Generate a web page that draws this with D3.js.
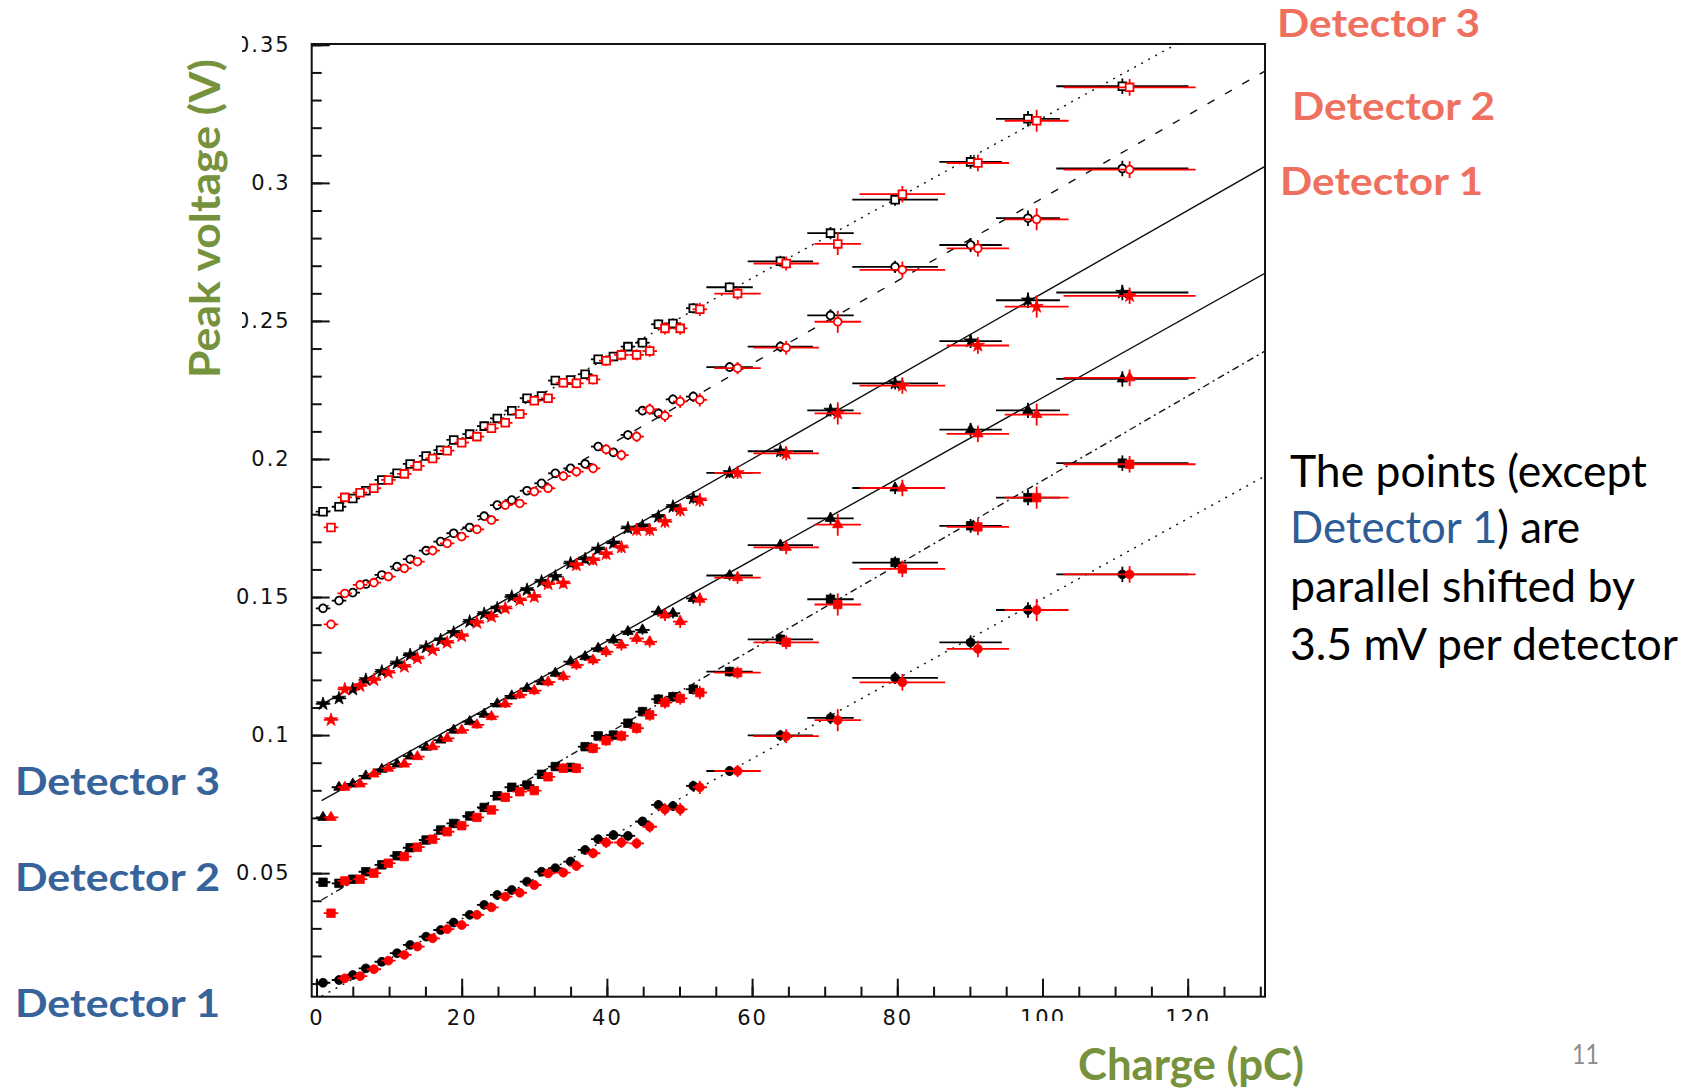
<!DOCTYPE html>
<html>
<head>
<meta charset="utf-8">
<script src="https://cdn.jsdelivr.net/npm/d3@7"></script>
<style>
  html, body { margin: 0; padding: 0; background: #fff; }
  svg { display: block; }
</style>
</head>
<body>
<div id="chart"></div>
<script>
// charge bins (pC): 26 dense bins + 7 wide bins
const chargeBlack = [0.9, 3.1, 5.0, 6.8, 9.0, 11.1, 12.9, 15.1, 17.1, 18.9, 21.1, 23.1, 24.9, 26.9, 29.0, 31.0, 32.9, 35.0, 37.0, 38.8, 40.9, 42.9, 44.9, 47.1, 49.1, 51.9,
  56.9, 63.9, 70.8, 79.7, 90.1, 98.0, 111.0];
const chargeRed = [2.0, 3.9, 6.0, 7.9, 9.9, 12.1, 13.9, 16.0, 18.0, 20.0, 22.1, 24.1, 26.0, 28.0, 30.0, 31.9, 34.0, 35.8, 38.1, 39.9, 42.0, 44.1, 45.9, 48.0, 50.1, 52.8,
  58.0, 64.7, 71.8, 80.7, 91.1, 99.2, 112.0];
const chargeErr = [1, 1, 1, 1, 1, 1, 1, 1, 1, 1, 1, 1, 1, 1, 1, 1, 1, 1, 1, 1, 1, 1, 1, 1, 1, 1,
  3.2, 4.5, 3.2, 5.9, 4.3, 4.4, 9.1];
const voltErrBlack = [0.0008, 0.0008, 0.0008, 0.0009, 0.0009, 0.0009, 0.001, 0.001, 0.001, 0.0011, 0.0011, 0.0012, 0.0012, 0.0012, 0.0013, 0.0013, 0.0014, 0.0014, 0.0015, 0.0015, 0.0016, 0.0016, 0.0017, 0.0018, 0.0018, 0.0019,
  0.0018, 0.002, 0.0022, 0.0022, 0.0025, 0.0028, 0.0028];
const voltErrRed = [0.001, 0.001, 0.001, 0.001, 0.0011, 0.0011, 0.0012, 0.0012, 0.0013, 0.0013, 0.0014, 0.0014, 0.0015, 0.0015, 0.0016, 0.0016, 0.0017, 0.0018, 0.0018, 0.0019, 0.002, 0.002, 0.0021, 0.0022, 0.0023, 0.0024,
  0.0022, 0.0025, 0.004, 0.003, 0.003, 0.004, 0.003];

// peak voltage (V), upper group: Detector 3, 2, 1
const up3Black = [0.1809, 0.1827, 0.1857, 0.1885, 0.1924, 0.1948, 0.1982, 0.2011, 0.2032, 0.2069, 0.2090, 0.2119, 0.2147, 0.2175, 0.2220, 0.2228, 0.2284, 0.2286, 0.2307, 0.2361, 0.2371, 0.2407, 0.2421, 0.2488, 0.2491, 0.2546,
  0.2622, 0.2716, 0.2818, 0.2939, 0.3076, 0.3232, 0.3350];
const up3Red = [0.1752, 0.1861, 0.1878, 0.1894, 0.1924, 0.1946, 0.1975, 0.2002, 0.2030, 0.2059, 0.2081, 0.2111, 0.2131, 0.2163, 0.2211, 0.2220, 0.2276, 0.2274, 0.2288, 0.2356, 0.2377, 0.2377, 0.2391, 0.2473, 0.2473, 0.2542,
  0.2599, 0.2708, 0.2779, 0.2959, 0.3072, 0.3225, 0.3346];
const up2Black = [0.1459, 0.1487, 0.1516, 0.1547, 0.1580, 0.1610, 0.1637, 0.1668, 0.1701, 0.1731, 0.1752, 0.1793, 0.1833, 0.1851, 0.1885, 0.1912, 0.1948, 0.1966, 0.1982, 0.2045, 0.2024, 0.2087, 0.2175, 0.2165, 0.2216, 0.2226,
  0.2333, 0.2407, 0.2520, 0.2696, 0.2775, 0.2872, 0.3052];
const up2Red = [0.1401, 0.1513, 0.1544, 0.1552, 0.1574, 0.1604, 0.1628, 0.1668, 0.1694, 0.1719, 0.1745, 0.1779, 0.1833, 0.1839, 0.1882, 0.1894, 0.1938, 0.1954, 0.1966, 0.2035, 0.2014, 0.2081, 0.2180, 0.2156, 0.2208, 0.2214,
  0.2329, 0.2403, 0.2497, 0.2685, 0.2763, 0.2868, 0.3048];
const up1Black = [0.1113, 0.1133, 0.1166, 0.1200, 0.1230, 0.1260, 0.1290, 0.1318, 0.1344, 0.1371, 0.1411, 0.1439, 0.1459, 0.1501, 0.1526, 0.1556, 0.1574, 0.1622, 0.1637, 0.1673, 0.1695, 0.1749, 0.1757, 0.1791, 0.1827, 0.1858,
  0.1950, 0.2028, 0.2176, 0.2274, 0.2427, 0.2575, 0.2603];
const up1Red = [0.1055, 0.1166, 0.1178, 0.1200, 0.1226, 0.1248, 0.1278, 0.1308, 0.1335, 0.1359, 0.1407, 0.1429, 0.1459, 0.1489, 0.1501, 0.1547, 0.1550, 0.1616, 0.1634, 0.1656, 0.1680, 0.1743, 0.1743, 0.1773, 0.1815, 0.1851,
  0.1950, 0.2020, 0.2165, 0.2266, 0.2411, 0.2552, 0.2591];

// lower group: Detector 3, 2, 1
const lo3Black = [0.0702, 0.0811, 0.0823, 0.0852, 0.0876, 0.0895, 0.0924, 0.0956, 0.0982, 0.1018, 0.1049, 0.1076, 0.1113, 0.1142, 0.1169, 0.1194, 0.1224, 0.1266, 0.1284, 0.1314, 0.1345, 0.1375, 0.1381, 0.1447, 0.1441, 0.1495,
  0.1578, 0.1688, 0.1785, 0.1895, 0.2106, 0.2176, 0.2290];
const lo3Red = [0.0702, 0.0811, 0.0823, 0.0859, 0.0880, 0.0895, 0.0922, 0.0958, 0.0988, 0.1018, 0.1037, 0.1067, 0.1113, 0.1146, 0.1161, 0.1192, 0.1212, 0.1254, 0.1272, 0.1302, 0.1326, 0.1350, 0.1338, 0.1435, 0.1411, 0.1492,
  0.1570, 0.1680, 0.1762, 0.1895, 0.2091, 0.2161, 0.2294];
const lo2Black = [0.0467, 0.0463, 0.0478, 0.0505, 0.0530, 0.0563, 0.0592, 0.0620, 0.0656, 0.0680, 0.0707, 0.0738, 0.0780, 0.0811, 0.0819, 0.0858, 0.0886, 0.0883, 0.0958, 0.0997, 0.1000, 0.1043, 0.1085, 0.1130, 0.1139, 0.1166,
  0.1230, 0.1347, 0.1492, 0.1625, 0.1758, 0.1860, 0.1985];
const lo2Red = [0.0355, 0.0472, 0.0478, 0.0500, 0.0536, 0.0560, 0.0594, 0.0623, 0.0650, 0.0672, 0.0702, 0.0729, 0.0775, 0.0795, 0.0799, 0.0849, 0.0880, 0.0880, 0.0952, 0.0980, 0.0997, 0.1025, 0.1073, 0.1118, 0.1133, 0.1154,
  0.1226, 0.1336, 0.1473, 0.1602, 0.1754, 0.1860, 0.1981];
const lo1Black = [0.0103, 0.0113, 0.0131, 0.0155, 0.0179, 0.0210, 0.0240, 0.0270, 0.0294, 0.0321, 0.0349, 0.0385, 0.0421, 0.0439, 0.0469, 0.0505, 0.0518, 0.0542, 0.0584, 0.0623, 0.0638, 0.0635, 0.0687, 0.0747, 0.0743, 0.0816,
  0.0870, 0.0999, 0.1062, 0.1207, 0.1336, 0.1453, 0.1582];
const lo1Red = [null, 0.0119, 0.0127, 0.0152, 0.0183, 0.0204, 0.0234, 0.0264, 0.0297, 0.0312, 0.0349, 0.0376, 0.0415, 0.0429, 0.0457, 0.0499, 0.0502, 0.0526, 0.0572, 0.0611, 0.0611, 0.0608, 0.0668, 0.0731, 0.0731, 0.0811,
  0.0870, 0.0996, 0.1054, 0.1191, 0.1312, 0.1453, 0.1582];

// linear fits, one per series (V at 0 pC, V per pC)
const fitIntercept = [0.1785, 0.1445, 0.1100, 0.0752, 0.0392, 0.0044];
const fitSlope = [0.00145, 0.0015, 0.0015, 0.00147, 0.00153, 0.00145];

const chargeTicks = [0, 20, 40, 60, 80, 100, 120];
const voltTicks = [0.05, 0.1, 0.15, 0.2, 0.25, 0.3, 0.35];
const voltTickLabels = ["0.05", "0.1", "0.15", "0.2", "0.25", "0.3", "0.35"];

const W = 1693, H = 1088;
const plot = { left: 311.7, right: 1265, top: 44, bottom: 996.7 };
const green = "#76923c", salmon = "#f0705f", navy = "#36649a";

const svg = d3.select("#chart").append("svg")
  .attr("width", W).attr("height", H);

const x = d3.scaleLinear().domain([-0.66, 130.65]).range([plot.left, plot.right]);
const y = d3.scaleLinear().domain([0.00525, 0.3503]).range([plot.bottom, plot.top]);

svg.append("clipPath").attr("id", "plotclip")
  .append("rect")
  .attr("x", plot.left).attr("y", plot.top)
  .attr("width", plot.right - plot.left).attr("height", plot.bottom - plot.top);

// axes, ticks pointing inward like ROOT
const tickFont = g => g.selectAll("text")
  .attr("font-family", "DejaVu Sans, sans-serif")
  .attr("font-size", 21)
  .attr("letter-spacing", 2)
  .attr("fill", "#111");

const xMinor = svg.append("g").attr("transform", `translate(0,${plot.bottom})`)
  .call(d3.axisBottom(x).tickValues(d3.range(0, 131, 5)).tickSize(-10).tickFormat(""));
const xMajor = svg.append("g").attr("transform", `translate(0,${plot.bottom})`)
  .call(d3.axisBottom(x).tickValues(chargeTicks).tickSize(-18).tickPadding(13).tickFormat(d3.format("d")))
  .call(tickFont);
const yMinor = svg.append("g").attr("transform", `translate(${plot.left},0)`)
  .call(d3.axisLeft(y).tickValues(d3.range(0.01, 0.351, 0.01)).tickSize(-10).tickFormat(""));
const yMajor = svg.append("g").attr("transform", `translate(${plot.left},0)`)
  .call(d3.axisLeft(y).tickValues(voltTicks).tickSize(-18).tickPadding(21)
    .tickFormat((d, i) => voltTickLabels[i]))
  .call(tickFont);

[xMinor, xMajor, yMinor, yMajor].forEach(g => {
  g.select(".domain").remove();
  g.selectAll(".tick line").attr("stroke", "#111").attr("stroke-width", 2);
});

svg.append("rect")
  .attr("x", plot.left).attr("y", plot.top)
  .attr("width", plot.right - plot.left).attr("height", plot.bottom - plot.top)
  .attr("fill", "none").attr("stroke", "#111").attr("stroke-width", 2);

// series styles
const series = [
  { black: up3Black, red: up3Red, symbol: d3.symbolSquare, size: 60, open: true, dash: "2,6" },
  { black: up2Black, red: up2Red, symbol: d3.symbolCircle, size: 48, open: true, dash: "8,12" },
  { black: up1Black, red: up1Red, symbol: d3.symbolStar, size: 55, open: false, dash: null },
  { black: lo3Black, red: lo3Red, symbol: d3.symbolTriangle, size: 48, open: false, dash: null },
  { black: lo2Black, red: lo2Red, symbol: d3.symbolSquare, size: 72, open: false, dash: "7,4,2,4" },
  { black: lo1Black, red: lo1Red, symbol: d3.symbolCircle, size: 62, open: false, dash: "2,6" }
];

const data = svg.append("g").attr("clip-path", "url(#plotclip)");

const line = d3.line().x(d => x(d[0])).y(d => y(d[1]));
series.forEach((s, i) => {
  const ends = [0.7, 131].map(c => [c, fitIntercept[i] + fitSlope[i] * c]);
  data.append("path")
    .attr("d", line(ends))
    .attr("fill", "none")
    .attr("stroke", "#111")
    .attr("stroke-width", 1.4)
    .attr("stroke-dasharray", s.dash);
});

const drawPoints = (values, charges, errs, color, s) => {
  const pts = values.map((v, i) => ({ q: charges[i], v, dq: chargeErr[i], dv: errs[i] }))
    .filter(d => d.v != null);
  const g = data.append("g");
  g.selectAll("line.h").data(pts).join("line")
    .attr("x1", d => x(d.q - d.dq)).attr("x2", d => x(d.q + d.dq))
    .attr("y1", d => y(d.v)).attr("y2", d => y(d.v))
    .attr("stroke", color).attr("stroke-width", 1.8);
  g.selectAll("line.v").data(pts).join("line")
    .attr("x1", d => x(d.q)).attr("x2", d => x(d.q))
    .attr("y1", d => y(d.v - d.dv)).attr("y2", d => y(d.v + d.dv))
    .attr("stroke", color).attr("stroke-width", 1.8);
  g.selectAll("path").data(pts).join("path")
    .attr("transform", d => `translate(${x(d.q)},${y(d.v)})`)
    .attr("d", d3.symbol().type(s.symbol).size(s.size))
    .attr("fill", s.open ? "#fff" : color)
    .attr("stroke", color)
    .attr("stroke-width", s.open ? 1.8 : 0.8);
};

series.forEach(s => drawPoints(s.black, chargeBlack, voltErrBlack, "#000", s));
series.forEach(s => drawPoints(s.red, chargeRed, voltErrRed, "#ff0000", s));

// slide text boxes (white backgrounds hide parts of tick labels)
svg.append("rect").attr("x", 150).attr("y", 20).attr("width", 92).attr("height", 380).attr("fill", "#fff");
svg.append("rect").attr("x", 1010).attr("y", 1021).attr("width", 330).attr("height", 67).attr("fill", "#fff");

const label = (txt, px, py, len, size, color, weight) =>
  svg.append("text")
    .attr("x", px).attr("y", py)
    .attr("font-family", "Lato, sans-serif")
    .attr("font-size", size)
    .attr("font-weight", weight)
    .attr("fill", color)
    .attr("textLength", len)
    .attr("lengthAdjust", "spacingAndGlyphs")
    .text(txt);

label("Peak voltage (V)", 0, 0, 319, 42, green, 700)
  .attr("transform", "translate(220,378) rotate(-90)");
label("Charge (pC)", 1078, 1080, 226, 44, green, 700);

label("Detector 3", 1277, 37, 203, 39, salmon, 700);
label("Detector 2", 1292, 120, 203, 39, salmon, 700);
label("Detector 1", 1280, 195, 203, 39, salmon, 700);

label("Detector 3", 15, 795, 205, 39, navy, 700);
label("Detector 2", 15, 891, 205, 39, navy, 700);
label("Detector 1", 15, 1017, 205, 39, navy, 700);

label("The points (except", 1290, 487, 357, 45, "#000", 400);
const l2 = label("", 1290, 543, 290, 45, "#000", 400);
l2.append("tspan").attr("fill", "#2e5c96").text("Detector 1");
l2.append("tspan").text(") are");
label("parallel shifted by", 1290, 602, 345, 45, "#000", 400);
label("3.5 mV per detector", 1290, 660, 388, 45, "#000", 400);

label("11", 1572, 1064, 27, 26, "#8c8c8c", 400);
</script>
</body>
</html>
